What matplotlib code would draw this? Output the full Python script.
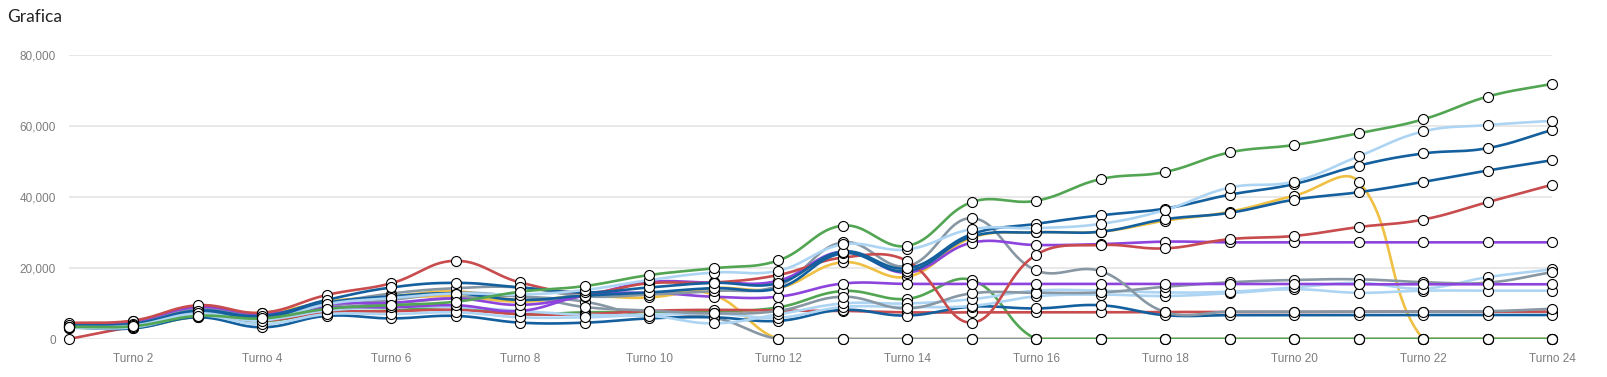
import numpy as np
import matplotlib.pyplot as plt

# data, one list per player (Turno 1..24)
turnos = np.arange(1, 25)
x_labels = ["Turno %d" % t for t in range(2, 25, 2)]

green_a  = [3400, 3600, 6500, 5800, 8500, 9500, 10500, 13300, 14900, 18000, 19900, 22100,
            31900, 26200, 38500, 38900, 45000, 47000, 52500, 54600, 57900, 61800, 68200, 71800]
green_b  = [3200, 3100, 6200, 5000, 7500, 8000, 9000, 7000, 7500, 7600, 7800, 8900,
            13500, 11300, 16600, 0, 0, 0, 0, 0, 0, 0, 0, 0]
lblue_a  = [3300, 3800, 7200, 5200, 9800, 11500, 12800, 12500, 13800, 16600, 18700, 19200,
            26600, 25200, 30900, 31200, 32400, 36300, 42600, 44300, 51400, 58400, 60200, 61400]
lblue_b  = [3100, 3300, 6600, 4200, 7000, 7000, 7500, 6100, 6100, 6500, 4400, 6950,
            10000, 10000, 11200, 13600, 13600, 13100, 13300, 14500, 15800, 14200, 17400, 19600]
lblue_c  = [3600, 4000, 7000, 5500, 8000, 9000, 9000, 7900, 6800, 6800, 7200, 6000,
            9000, 9000, 9300, 12000, 12500, 12100, 12900, 14000, 13000, 13600, 13600, 13600]
dblue_a  = [3800, 4300, 8000, 6500, 11000, 14500, 15800, 14500, 13100, 14500, 15800, 15700,
            24600, 19900, 29500, 32400, 34800, 36700, 40600, 43600, 48800, 52200, 53700, 58800]
dblue_b  = [3500, 3900, 7400, 6000, 10200, 12000, 12800, 11000, 12200, 13100, 14300, 14300,
            24100, 19100, 28800, 30000, 30200, 33700, 35500, 39200, 41300, 44200, 47400, 50300]
dblue_c  = [3300, 3000, 6100, 3300, 6500, 5800, 6500, 4600, 4600, 5800, 6100, 5100,
            8200, 6600, 9100, 8600, 9500, 6700, 6700, 6700, 6700, 6750, 6750, 6750]
red_a    = [4500, 5200, 9500, 7400, 12400, 15700, 22000, 15900, 13000, 15700, 15900, 18000,
            22900, 21950, 4600, 23700, 26450, 25500, 28100, 29000, 31500, 33600, 38500, 43400]
red_b    = [0, 3500, 6500, 5200, 7500, 7800, 8200, 7000, 7000, 7900, 8200, 8000,
            7900, 7500, 7500, 7500, 7500, 7600, 7600, 7600, 7700, 7700, 7700, 7700]
purple_a = [4200, 5000, 9000, 7000, 9800, 10200, 11400, 9600, 12200, 16000, 15900, 16400,
            24600, 18700, 27100, 26450, 26700, 27400, 27200, 27200, 27200, 27200, 27200, 27200]
purple_b = [3800, 4400, 8200, 6500, 8800, 8900, 9500, 7900, 12200, 13000, 11900, 11900,
            15600, 15500, 15500, 15500, 15500, 15500, 15500, 15500, 15400, 15400, 15400, 15400]
yellow_a = [3900, 4800, 8000, 7400, 10200, 11500, 12000, 10500, 12000, 11700, 14300, 14300,
            21600, 17500, 28500, 30000, 30200, 33300, 35800, 40300, 44300, 0, 0, 0]
yellow_b = [3500, 4500, 8400, 6800, 10500, 12000, 13400, 11000, 12300, 12800, 12400, 0,
            0, 0, 0, 0, 0, 0, 0, 0, 0, 0, 0, 0]
gray_a   = [3600, 4000, 7500, 6000, 8500, 10000, 11500, 12000, 9000, 8000, 7200, 7900,
            11900, 8600, 12850, 13000, 13100, 14700, 15950, 16600, 16800, 16000, 15850, 18800]
gray_b   = [3700, 4500, 8500, 6800, 10000, 12800, 14300, 14500, 12000, 12500, 13500, 15000,
            27200, 20500, 34000, 19300, 19100, 7600, 7700, 7700, 7700, 7700, 7800, 8500]
gray_c   = [3400, 4200, 7800, 6000, 9200, 11000, 13000, 12000, 10500, 6300, 6000, 0,
            0, 0, 0, 0, 0, 0, 0, 0, 0, 0, 0, 0]

GREEN = "#52a552"; LBLUE = "#add5f3"; DBLUE = "#14609e"; RED = "#c84b4d"
PURPLE = "#8d44dc"; YELLOW = "#efc043"; GRAY = "#8897a4"

# drawing order, bottom first
series = [
    (yellow_b, YELLOW), (yellow_a, YELLOW), (gray_c, GRAY), (green_b, GREEN),
    (red_b, RED), (dblue_c, DBLUE), (lblue_c, LBLUE), (lblue_b, LBLUE), (gray_a, GRAY),
    (purple_b, PURPLE), (gray_b, GRAY), (purple_a, PURPLE),
    (red_a, RED), (dblue_b, DBLUE), (dblue_a, DBLUE), (lblue_a, LBLUE), (green_a, GREEN),
]

YMAX = 80000


def smooth(xs, ys, t=0.4, n=24):
    # bezier spline like the web chart (tension 0.4), computed in pixel-ish space
    px = np.asarray(xs, float) * 64.5
    py = np.asarray(ys, float) / 281.4
    top = YMAX / 281.4
    m = len(px)
    cpp = np.zeros((m, 2)); cpn = np.zeros((m, 2))
    for i in range(m):
        a = max(i - 1, 0); b = min(i + 1, m - 1)
        d01 = np.hypot(px[i] - px[a], py[i] - py[a])
        d12 = np.hypot(px[b] - px[i], py[b] - py[i])
        tot = d01 + d12
        s01 = d01 / tot if tot else 0
        s12 = d12 / tot if tot else 0
        dx = px[b] - px[a]; dy = py[b] - py[a]
        cpp[i] = [px[i] - t * s01 * dx, py[i] - t * s01 * dy]
        cpn[i] = [px[i] + t * s12 * dx, py[i] + t * s12 * dy]
    cpp[:, 1] = np.clip(cpp[:, 1], 0, top)
    cpn[:, 1] = np.clip(cpn[:, 1], 0, top)
    u = np.linspace(0, 1, n)[:, None]
    out = []
    for i in range(m - 1):
        p0 = np.array([px[i], py[i]]); p3 = np.array([px[i + 1], py[i + 1]])
        seg = ((1 - u) ** 3) * p0 + 3 * ((1 - u) ** 2) * u * cpn[i] \
            + 3 * (1 - u) * u ** 2 * cpp[i + 1] + u ** 3 * p3
        out.append(seg if i == 0 else seg[1:])
    out = np.vstack(out)
    return out[:, 0] / 64.5, out[:, 1] * 281.4


fig = plt.figure(figsize=(16.08, 3.77), dpi=100)
ax = fig.add_axes([69 / 1608, 1 - 339 / 377, (1552 - 69) / 1608, (339 - 54.7) / 377])

for vals, col in series:
    sx, sy = smooth(turnos, vals)
    ax.plot(sx, sy, color=col, lw=1.9, zorder=2, solid_capstyle="round")
for vals, col in series:
    ax.plot(turnos, vals, ls="none", marker="o", ms=7.2, mfc="white", mec="black",
            mew=0.8, zorder=3, clip_on=False)

ax.set_xlim(1, 24)
ax.set_ylim(0, YMAX)
ax.set_yticks([0, 20000, 40000, 60000, 80000])
ax.set_yticklabels(["{:,}".format(v) for v in [0, 20000, 40000, 60000, 80000]])
ax.set_xticks(range(2, 25, 2))
ax.set_xticklabels(x_labels)
ax.grid(axis="y", color="#e6e6e6", lw=1.3, zorder=0)
ax.set_axisbelow(True)
for s in ax.spines.values():
    s.set_visible(False)
ax.tick_params(axis="both", length=0, labelcolor="#7d7d7d", labelsize=8.5)
ax.tick_params(axis="y", pad=9.5)
ax.tick_params(axis="x", pad=10)
for lab in ax.get_xticklabels() + ax.get_yticklabels():
    lab.set_family("Liberation Sans")

fig.text(7 / 1608, 1 - 17.5 / 377, "Grafica", fontsize=12.5, color="#222222",
         family="Lato", va="center", ha="left")

fig.savefig("out.png", dpi=100)
